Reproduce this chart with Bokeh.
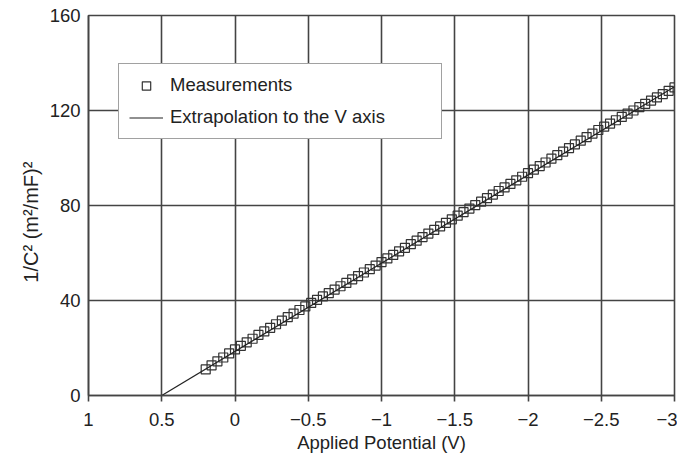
from bokeh.plotting import figure
from bokeh.models import Range1d, FixedTicker, Legend, LegendItem
from bokeh.embed import file_html
from bokeh.resources import INLINE

# Measurements: applied potential (V) and 1/C^2 (m^2/mF)^2
meas_v = [0.20, 0.16, 0.12, 0.08, 0.04, 0.00,
          -0.04, -0.08, -0.12, -0.16, -0.20, -0.24, -0.28, -0.32, -0.36, -0.40,
          -0.44, -0.48, -0.52, -0.56, -0.60, -0.64, -0.68, -0.72, -0.76, -0.80,
          -0.84, -0.88, -0.92, -0.96, -1.00, -1.04, -1.08, -1.12, -1.16, -1.20,
          -1.24, -1.28, -1.32, -1.36, -1.40, -1.44, -1.48, -1.52, -1.56, -1.60,
          -1.64, -1.68, -1.72, -1.76, -1.80, -1.84, -1.88, -1.92, -1.96, -2.00,
          -2.04, -2.08, -2.12, -2.16, -2.20, -2.24, -2.28, -2.32, -2.36, -2.40,
          -2.44, -2.48, -2.52, -2.56, -2.60, -2.64, -2.68, -2.72, -2.76, -2.80,
          -2.84, -2.88, -2.92, -2.96, -3.00]
meas_c = [11.0, 12.7, 14.4, 16.0, 17.7, 19.4,
          20.9, 22.4, 23.9, 25.5, 27.0, 28.5, 30.0, 31.5, 33.0, 34.5,
          36.0, 37.5, 39.0, 40.3, 41.7, 43.1, 44.6, 46.0, 47.4, 48.9,
          50.3, 51.8, 53.2, 54.7, 56.2, 57.7, 59.2, 60.7, 62.2, 63.7,
          65.2, 66.7, 68.2, 69.7, 71.2, 72.7, 74.2, 75.7, 77.2, 78.7,
          80.2, 81.6, 83.1, 84.6, 86.1, 87.6, 89.1, 90.6, 92.1, 93.6,
          95.1, 96.6, 98.1, 99.7, 101.2, 102.7, 104.2, 105.7, 107.3, 108.8,
          110.3, 111.8, 113.2, 114.5, 115.9, 117.3, 118.7, 120.0, 121.4, 122.8,
          124.2, 125.5, 126.9, 128.3, 129.7]

# Extrapolation line to the V axis
ext_v = [0.5, -3.0]
ext_c = [0.0, 130.0]

x_ticks = [1, 0.5, 0, -0.5, -1, -1.5, -2, -2.5, -3]
x_tick_labels = ["1", "0.5", "0", "\u22120.5", "\u22121", "\u22121.5", "\u22122", "\u22122.5", "\u22123"]
y_ticks = [0, 40, 80, 120, 160]

FONT = "Liberation Sans"
GRID = "#444444"
TEXT = "#222222"
FS = "18.5px"

p = figure(width=677, height=461, output_backend="svg", toolbar_location=None,
           x_range=Range1d(1, -3), y_range=Range1d(0, 160),
           min_border_left=88, min_border_right=3, min_border_top=15, min_border_bottom=66)

p.outline_line_color = GRID
p.outline_line_width = 1.6

sq = p.scatter(meas_v, meas_c, marker="square", size=9, fill_alpha=0,
               line_color="#333333", line_width=1.2)
ln = p.line(ext_v, ext_c, line_color="#222222", line_width=1.2)

p.xaxis.ticker = FixedTicker(ticks=x_ticks)
p.xaxis.major_label_overrides = {t: l for t, l in zip(x_ticks, x_tick_labels)}
p.yaxis.ticker = FixedTicker(ticks=y_ticks)

for ax in (p.xaxis[0], p.yaxis[0]):
    ax.axis_line_color = GRID
    ax.axis_line_width = 1.6
    ax.major_tick_line_color = GRID
    ax.major_tick_line_width = 1.6
    ax.major_tick_in = 0
    ax.minor_tick_line_color = None
    ax.major_label_text_font = FONT
    ax.major_label_text_font_size = FS
    ax.major_label_text_color = TEXT
    ax.axis_label_text_font = FONT
    ax.axis_label_text_font_size = FS
    ax.axis_label_text_font_style = "normal"
    ax.axis_label_text_color = TEXT

p.xaxis.major_tick_out = 6
p.xaxis.major_label_standoff = 11
p.xaxis.axis_label = "Applied Potential (V)"
p.xaxis.axis_label_standoff = 3
p.yaxis.major_tick_out = 0
p.yaxis.major_label_standoff = 8
p.yaxis.axis_label = "1/C\u00b2 (m\u00b2/mF)\u00b2" + "\u00a0" * 6
p.yaxis.axis_label_text_font_size = "20px"
p.yaxis.axis_label_standoff = 5

p.xgrid.grid_line_color = GRID
p.xgrid.grid_line_width = 1.6
p.ygrid.grid_line_color = GRID
p.ygrid.grid_line_width = 1.6

legend = Legend(items=[LegendItem(label="Measurements", renderers=[sq]),
                       LegendItem(label="Extrapolation to the V axis", renderers=[ln])],
                location=(30, 256))
legend.padding = 10
legend.spacing = 10
legend.margin = 0
legend.label_height = 21
legend.glyph_height = 21
legend.glyph_width = 34
legend.label_standoff = 7
legend.label_width = 261
legend.label_text_font = FONT
legend.label_text_font_size = FS
legend.label_text_color = TEXT
legend.border_line_color = GRID
legend.border_line_width = 1.6
legend.background_fill_color = "white"
legend.background_fill_alpha = 1.0
p.add_layout(legend)

open("out.html", "w").write(file_html(p, INLINE))
